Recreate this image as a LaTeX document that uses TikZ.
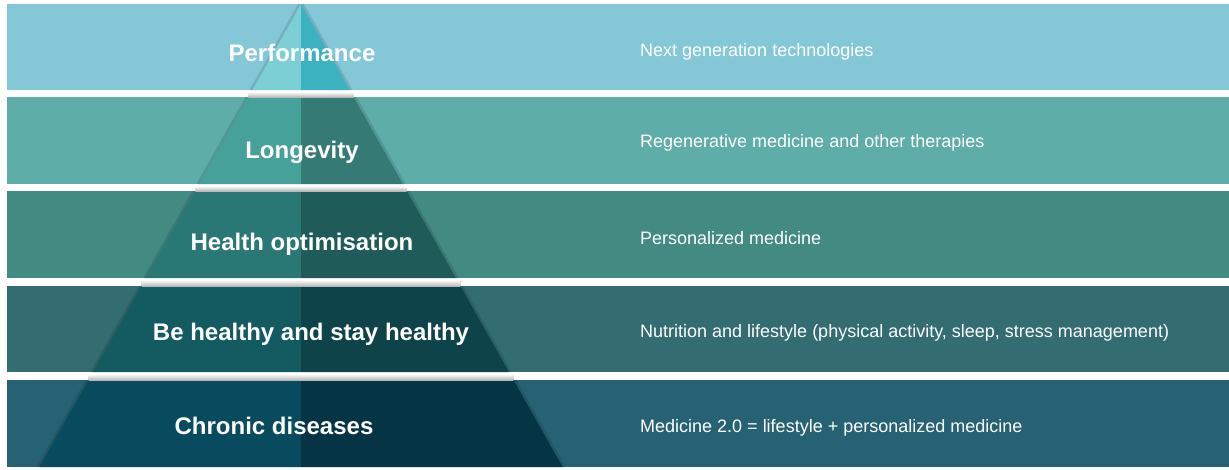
\documentclass[tikz,border=0pt]{standalone}
\usepackage{fontspec}
\setmainfont{Liberation Sans}
\definecolor{bA}{HTML}{84C8D8}\definecolor{lA}{HTML}{7DCFD6}\definecolor{rA}{HTML}{3CB1C0}
\definecolor{bB}{HTML}{5FADA9}\definecolor{lB}{HTML}{47A19B}\definecolor{rB}{HTML}{367A75}
\definecolor{bC}{HTML}{438A83}\definecolor{lC}{HTML}{2A7876}\definecolor{rC}{HTML}{1F5B58}
\definecolor{bD}{HTML}{336D72}\definecolor{lD}{HTML}{135B60}\definecolor{rD}{HTML}{0F434A}
\definecolor{bE}{HTML}{266273}\definecolor{lE}{HTML}{084B5E}\definecolor{rE}{HTML}{053544}
\tikzset{
  lvl/.style={font=\bfseries\fontsize{24}{28}\selectfont, text=white, anchor=base, inner sep=0pt},
  desc/.style={font=\fontsize{18}{22}\selectfont, text=white, anchor=base west, inner sep=0pt},
}
\begin{document}
\begin{tikzpicture}[x=1pt,y=-1pt]
\useasboundingbox (0,0) rectangle (1229,469);
\fill[white] (0,0) rectangle (1229,469);
\def\pcx{301}\def\pay{4}\def\psl{0.565}
% bands and pyramid segments
\foreach \t/\b/\bc/\lc/\rc in {4/90/bA/lA/rA,97/184/bB/lB/rB,191/278/bC/lC/rC,286/372/bD/lD/rD,380/467/bE/lE/rE}{
  \pgfmathsetmacro{\hT}{(\t-\pay)*\psl}
  \pgfmathsetmacro{\hB}{(\b-\pay)*\psl}
  \fill[\bc] (7,\t) rectangle (1229,\b);
  \fill[\lc] (\pcx-\hT,\t) -- (\pcx,\t) -- (\pcx,\b) -- (\pcx-\hB,\b) -- cycle;
  \fill[\rc] (\pcx,\t) -- (\pcx+\hT,\t) -- (\pcx+\hB,\b) -- (\pcx,\b) -- cycle;
  \draw[black, opacity=0.12, line width=2.5pt] (\pcx-\hT-1.5,\t) -- (\pcx-\hB-1.5,\b);
  \draw[black, opacity=0.12, line width=2.5pt] (\pcx+\hT+1.5,\t) -- (\pcx+\hB+1.5,\b);
}
% shadows in the gaps above the lower segments
\foreach \g/\t in {90/97,184/191,278/286,372/380}{
  \pgfmathsetmacro{\hT}{(\t-\pay)*\psl}
  \shade[top color=white, bottom color=black!28] (\pcx-\hT,\g+2) rectangle (\pcx+\hT,\t);
}
% level labels
\node[lvl] (p1) at (302,61) {Performance};
\node[lvl] (p2) at (302,158) {Longevity};
\node[lvl] (p3) at (302,250) {Health optimisation};
\node[lvl] (p4) at (311,340) {Be healthy and stay healthy};
\node[lvl] (p5) at (274,434) {Chronic diseases};
% descriptions
\node[desc] (d1) at (640,56) {Next generation technologies};
\node[desc] (d2) at (640,147) {Regenerative medicine and other therapies};
\node[desc] (d3) at (640,244) {Personalized medicine};
\node[desc] (d4) at (640,337) {Nutrition and lifestyle (physical activity, sleep, stress management)};
\node[desc] (d5) at (640,432) {Medicine 2.0 = lifestyle + personalized medicine};
\end{tikzpicture}
\end{document}
